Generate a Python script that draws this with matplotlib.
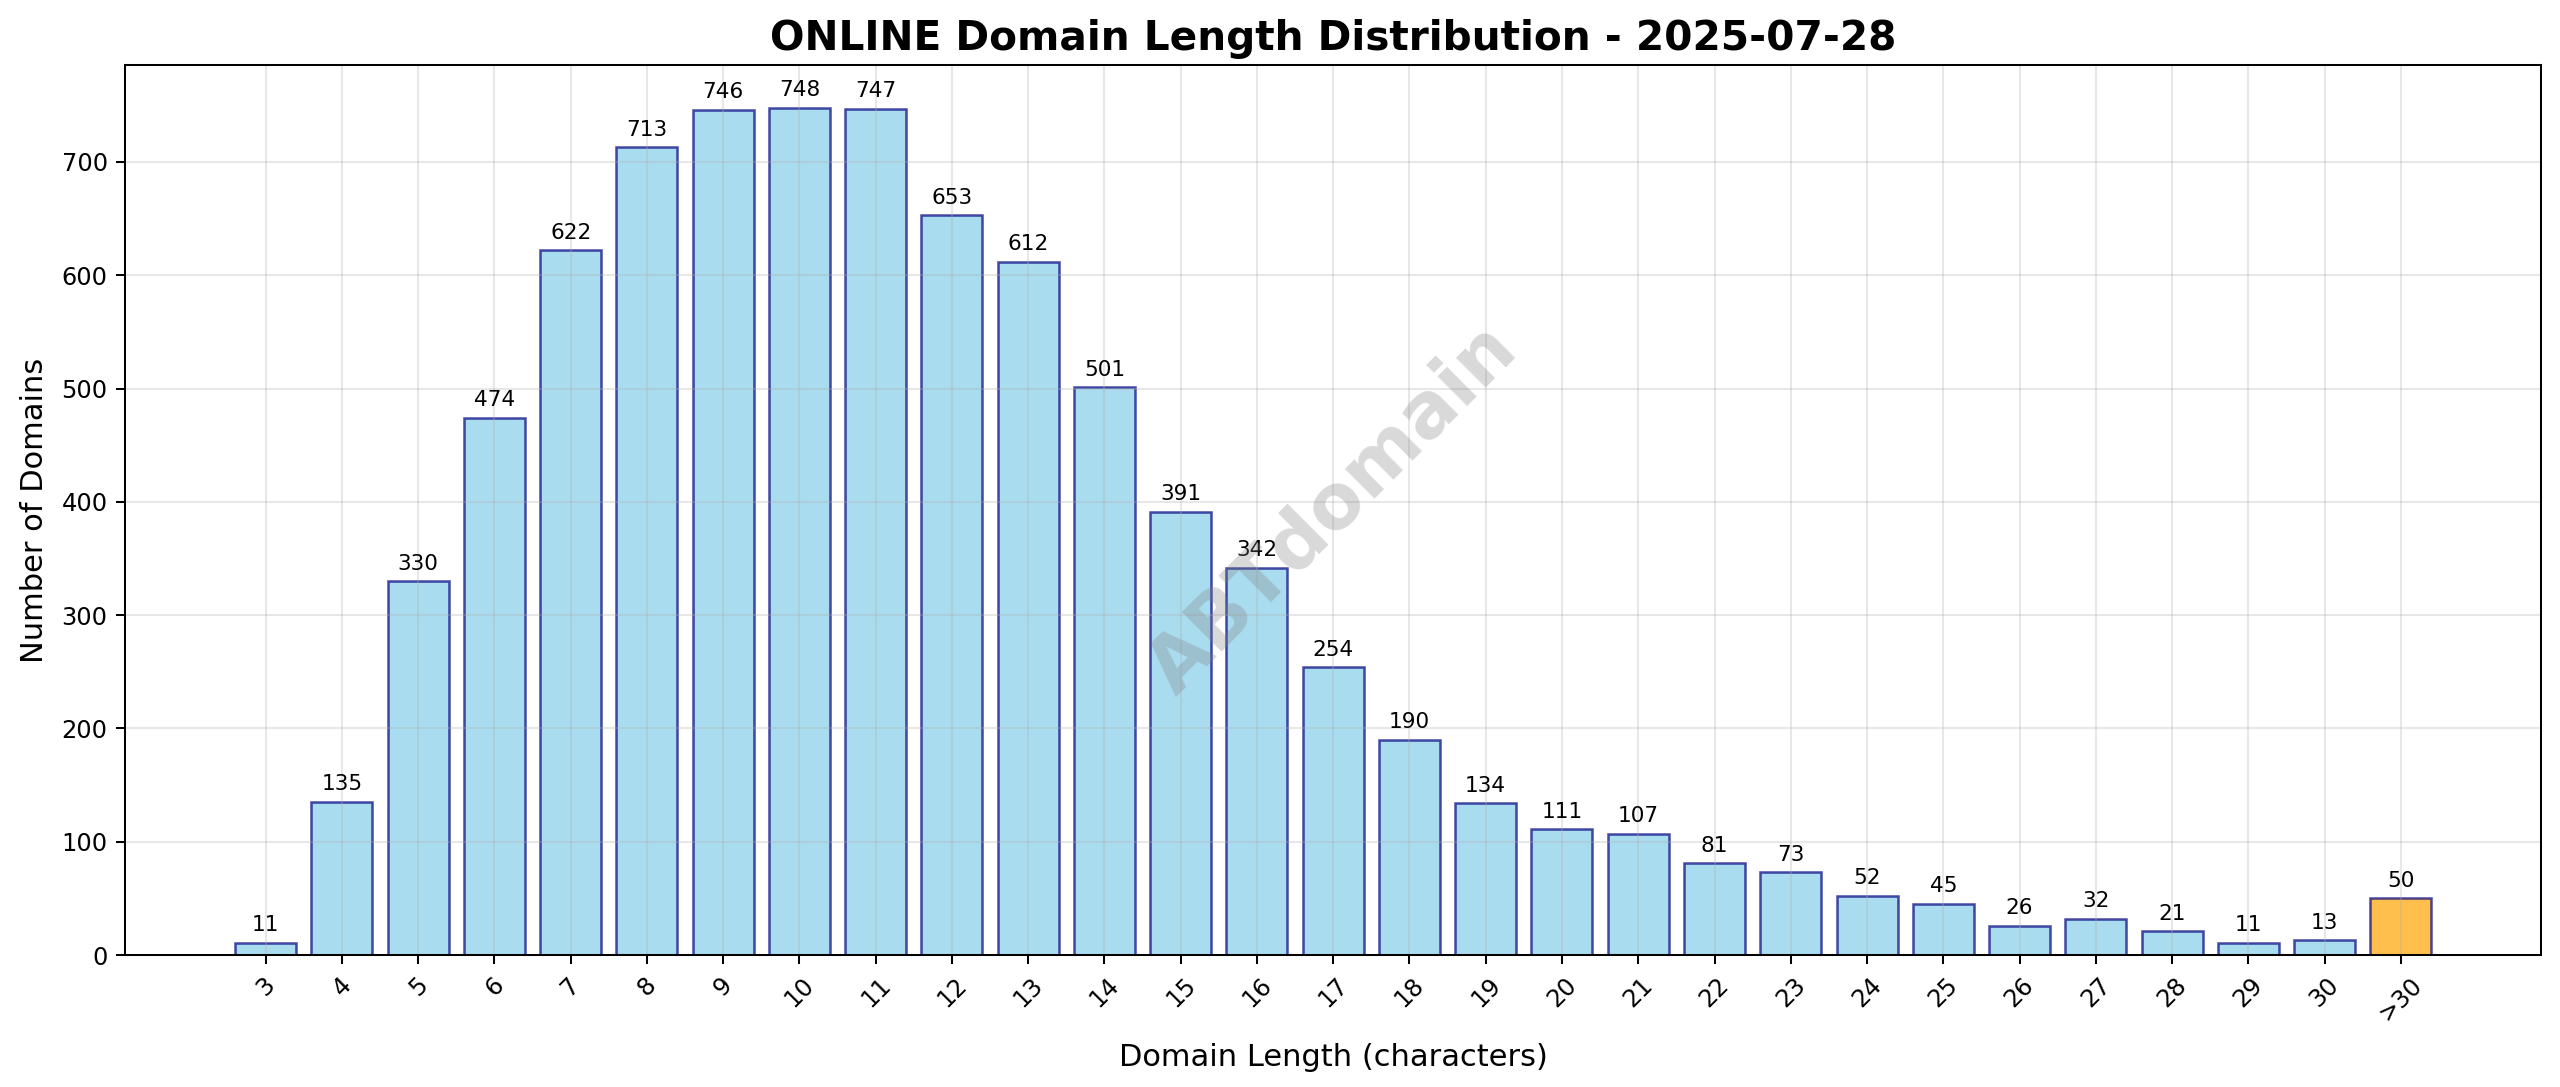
import matplotlib
matplotlib.use("Agg")
import matplotlib.pyplot as plt

categories = ["3", "4", "5", "6", "7", "8", "9", "10", "11", "12", "13", "14", "15", "16",
              "17", "18", "19", "20", "21", "22", "23", "24", "25", "26", "27", "28", "29",
              "30", ">30"]
counts = [11, 135, 330, 474, 622, 713, 746, 748, 747, 653, 612, 501, 391, 342,
          254, 190, 134, 111, 107, 81, 73, 52, 45, 26, 32, 21, 11, 13, 50]
title = "ONLINE Domain Length Distribution - 2025-07-28"
watermark = "ABTdomain"

DPI = 183
fig = plt.figure(figsize=(2560 / DPI, 1087 / DPI), dpi=DPI)
ax = fig.add_axes([0.049, 0.1214, 0.9436, 0.8186])

colors = ["skyblue"] * (len(categories) - 1) + ["orange"]
x = list(range(len(categories)))
bars = ax.bar(x, counts, color=colors, alpha=0.7, edgecolor="navy", linewidth=1.0, width=0.8)

for b, v in zip(bars, counts):
    ax.annotate(str(v), (b.get_x() + b.get_width() / 2, b.get_height()),
                xytext=(0, 3), textcoords="offset points",
                ha="center", va="bottom", fontsize=8.5)

ax.set_xticks(x)
ax.set_xticklabels(categories, rotation=45, fontsize=9.5)
ax.tick_params(axis="y", labelsize=9.5)
ax.set_xlabel("Domain Length (characters)", fontsize=12, labelpad=7)
ax.set_ylabel("Number of Domains", fontsize=12, labelpad=5)
ax.set_title(title, fontsize=16, fontweight="bold")
ax.grid(True, alpha=0.3)

ax.text(0.5, 0.5, watermark, transform=ax.transAxes, fontsize=30, fontweight="bold",
        color="gray", alpha=0.3, rotation=45, ha="center", va="center")

fig.savefig("out.png", dpi=DPI)
